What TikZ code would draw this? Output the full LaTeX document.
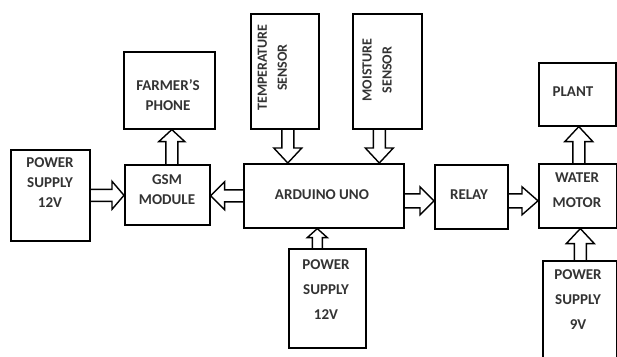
\documentclass[tikz,border=0pt]{standalone}
\usepackage{fontspec}
\setmainfont{Carlito}
\usetikzlibrary{calc}
\newcommand\blkarrow[5]{% #1 from, #2 to, #3 shaft half width, #4 head half width, #5 head length
  \coordinate (bh) at ($(#2)!#5!(#1)$);
  \draw[arr] ($(#1)!#3!90:(#2)$) -- ($(bh)!#3!90:(#2)$) -- ($(bh)!#4!90:(#2)$) -- (#2)
    -- ($(bh)!#4!-90:(#2)$) -- ($(bh)!#3!-90:(#2)$) -- ($(#1)!#3!-90:(#2)$);
}
\begin{document}
\begin{tikzpicture}[x=1pt,y=-1pt,
  blk/.style={draw, line width=1.6pt, inner sep=0pt, anchor=north west},
  arr/.style={line width=1.4pt, line join=miter},
  lbl/.style={font=\bfseries\fontsize{15}{20}\selectfont, text=black!80, align=center, inner sep=0pt},
  lblw/.style={font=\bfseries\fontsize{15}{25}\selectfont, text=black!80, align=center, inner sep=0pt},
  lblr/.style={font=\bfseries\fontsize{14}{20}\selectfont, text=black!80, align=center, inner sep=0pt, rotate=90}]
\useasboundingbox (0,0) rectangle (617,356);
% boxes
\node[blk, minimum width=79pt, minimum height=91pt] (ps1) at (10,149) {};
\node[blk, minimum width=85pt, minimum height=60pt] (gsm) at (124,164) {};
\node[blk, minimum width=91pt, minimum height=77pt] (phone) at (123,51) {};
\node[blk, minimum width=68pt, minimum height=115pt] (temp) at (250,13) {};
\node[blk, minimum width=69pt, minimum height=115pt] (moist) at (352,13) {};
\node[blk, minimum width=160pt, minimum height=64pt] (ard) at (243,163) {};
\node[blk, minimum width=77pt, minimum height=99pt] (ps2) at (288,248) {};
\node[blk, minimum width=73pt, minimum height=64pt] (relay) at (434,164) {};
\node[blk, minimum width=78pt, minimum height=64pt] (motor) at (538,163) {};
\node[blk, minimum width=77pt, minimum height=63pt] (plant) at (538,62) {};
\node[blk, minimum width=74pt, minimum height=102pt] (ps3) at (542,260) {};
% labels
\node[lbl] (tphone) at (168,95) {FARMER'S\\PHONE};
\node[lbl] (tps1) at (50,183) {POWER\\SUPPLY\\12V};
\node[lbl] (tgsm) at (167,190) {GSM\\MODULE};
\node[lbl] (tard) at (322,195) {ARDUINO UNO};
\node[lblw] (tps2) at (326,290) {POWER\\SUPPLY\\12V};
\node[lbl] (trelay) at (469,195) {RELAY};
\node[lblw] (tmotor) at (577,190) {WATER\\MOTOR};
\node[lbl] (tplant) at (573,92) {PLANT};
\node[lblw] (tps3) at (578,300) {POWER\\SUPPLY\\9V};
\node[lblr] (ttemp) at (272.5,67.5) {TEMPERATURE\\SENSOR};
\node[lblr] (tmoist) at (377,70) {MOISTURE\\SENSOR};
% arrow end points
\coordinate (a1s) at (ps1.east);
\coordinate (a1e) at (a1s -| gsm.west);
\coordinate (a2s) at ([xshift=4.5pt]gsm.north);
\coordinate (a2e) at (a2s |- phone.south);
\coordinate (a3s) at (ard.west);
\coordinate (a3e) at (a3s -| gsm.east);
\coordinate (a4s) at ([xshift=3pt]temp.south);
\coordinate (a4e) at (a4s |- ard.north);
\coordinate (a5s) at ([xshift=-8pt]moist.south);
\coordinate (a5e) at (a5s |- ard.north);
\coordinate (a6s) at ([xshift=-10pt]ps2.north);
\coordinate (a6e) at (a6s |- ard.south);
\coordinate (a7s) at ([yshift=-5pt]ard.east);
\coordinate (a7e) at (a7s -| relay.west);
\coordinate (a8s) at ([yshift=-4pt]relay.east);
\coordinate (a8e) at (a8s -| motor.west);
\coordinate (a9s) at ([xshift=1pt]motor.north);
\coordinate (a9e) at (a9s |- plant.south);
\coordinate (a10s) at ([xshift=0.5pt]ps3.north);
\coordinate (a10e) at (a10s |- motor.south);
% arrows
\blkarrow{a1s}{a1e}{6pt}{14pt}{12pt}
\blkarrow{a2s}{a2e}{6pt}{13pt}{12pt}
\blkarrow{a3s}{a3e}{6pt}{14pt}{14pt}
\blkarrow{a4s}{a4e}{6pt}{14pt}{15pt}
\blkarrow{a5s}{a5e}{6pt}{14pt}{15pt}
\blkarrow{a6s}{a6e}{5pt}{10pt}{9pt}
\blkarrow{a7s}{a7e}{7pt}{14pt}{14pt}
\blkarrow{a8s}{a8e}{7pt}{14pt}{16pt}
\blkarrow{a9s}{a9e}{6pt}{14pt}{15pt}
\blkarrow{a10s}{a10e}{6pt}{14pt}{15pt}
\end{tikzpicture}
\end{document}
